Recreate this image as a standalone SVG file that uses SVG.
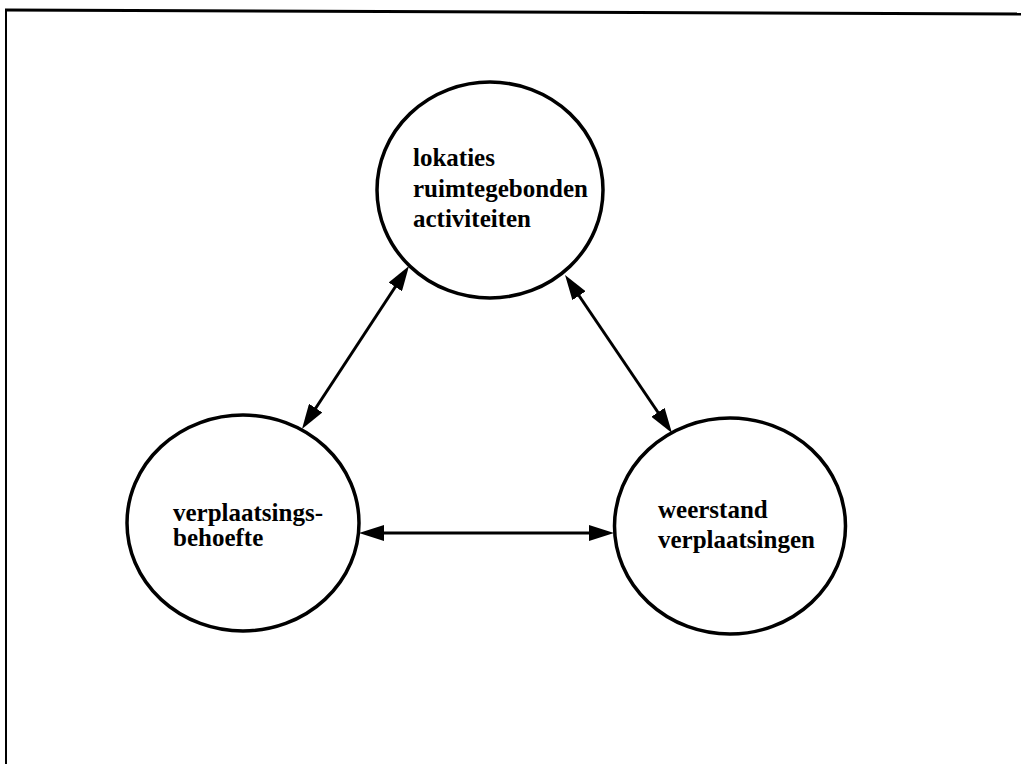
<svg xmlns="http://www.w3.org/2000/svg" width="1021" height="764" viewBox="0 0 1021 764">
  <style>
    .node { fill: #fff; stroke: #000; stroke-width: 3.5; }
    .lbl { font-family: "Liberation Serif", "Times New Roman", serif; font-weight: bold; font-size: 25px; fill: #000; }
    .conn { stroke: #000; stroke-width: 3; fill: none; marker-start: url(#ah); marker-end: url(#ah); }
    .frame { stroke: #000; fill: none; }
  </style>
  <defs>
    <marker id="ah" markerUnits="userSpaceOnUse" markerWidth="25" markerHeight="16" refX="19" refY="8" orient="auto-start-reverse" viewBox="0 0 25 16">
      <path d="M0,0 L25,8 L0,16 z" fill="#000"/>
    </marker>
  </defs>
  <rect width="1021" height="764" fill="#fff"/>
  <line class="frame" x1="6" y1="764" x2="6" y2="10" stroke-width="2"/>
  <line class="frame" x1="5" y1="10" x2="1021" y2="14" stroke-width="3"/>
  <g id="connectors">
    <line class="conn" x1="405.7" y1="271" x2="305.3" y2="424"/>
    <line class="conn" x1="568.4" y1="280" x2="668.6" y2="428"/>
    <line class="conn" x1="365" y1="533" x2="608" y2="533"/>
  </g>
  <g id="node-lokaties">
    <ellipse class="node" cx="490" cy="190" rx="113" ry="108"/>
    <text class="lbl" x="413" y="166">lokaties</text>
    <text class="lbl" x="413" y="197">ruimtegebonden</text>
    <text class="lbl" x="413" y="227">activiteiten</text>
  </g>
  <g id="node-behoefte">
    <ellipse class="node" cx="243" cy="523" rx="116" ry="108"/>
    <text class="lbl" x="173" y="521">verplaatsings-</text>
    <text class="lbl" x="173" y="546">behoefte</text>
  </g>
  <g id="node-weerstand">
    <ellipse class="node" cx="730" cy="526" rx="115.5" ry="108"/>
    <text class="lbl" x="658" y="518">weerstand</text>
    <text class="lbl" x="658" y="548">verplaatsingen</text>
  </g>
</svg>
